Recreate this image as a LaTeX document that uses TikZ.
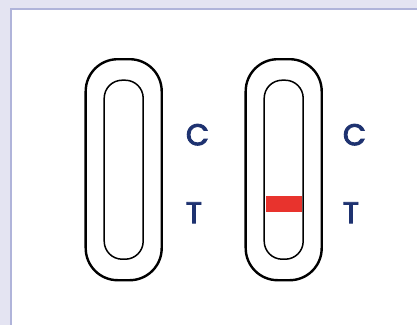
\documentclass[tikz,border=0pt]{standalone}
\usepackage{fontspec}
\setmainfont{Poppins}
\newfontfamily\markfont{Poppins}[FakeBold=3]
\definecolor{tsbg}{RGB}{228,228,242}
\definecolor{tsedge}{RGB}{176,180,218}
\definecolor{tsnavy}{RGB}{30,50,112}
\definecolor{tsred}{RGB}{232,51,45}
\usetikzlibrary{positioning}
\tikzset{
    casing/.style={
        draw=black, line width=2.4bp, rounded corners=32bp,
        minimum width=76bp, minimum height=221bp, inner sep=0pt
    },
    window/.style={
        draw=black, line width=1.5bp, rounded corners=18bp,
        minimum width=39bp, minimum height=179bp, inner sep=0pt
    },
    band/.style={
        fill=#1, minimum width=36bp, minimum height=16bp, inner sep=0pt
    },
    band/.default=tsred,
    letter/.style={
        text=tsnavy, font=\markfont\fontsize{30}{30}\selectfont,
        inner sep=0pt, anchor=center
    }
}

\begin{document}
\begin{tikzpicture}[x=1bp,y=-1bp]
\useasboundingbox (0,0) rectangle (417,325);
% page and panel
\fill[tsbg] (0,0) rectangle (417,325);
\fill[white] (11,9) rectangle (417,325);
\draw[tsedge, line width=1.5bp] (11,325) -- (11,9) -- (417,9);
% negative strip
\node[casing] (neg) at (123.7,169.7) {};
\node[window] (negwin) at (neg.center) {};
\node[letter, right=62bp of neg.center, yshift=35bp] (negC) {C};
\node[letter, right=62bp of neg.center, yshift=-43bp] (negT) {T};
% positive strip
\node[casing] (pos) at (283.7,169.7) {};
\node[window] (poswin) at (pos.center) {};
\node[band, below=34bp of pos.center, anchor=center] (posline) {};
\node[letter, right=59bp of pos.center, yshift=35bp] (posC) {C};
\node[letter, right=59bp of pos.center, yshift=-43bp] (posT) {T};
\end{tikzpicture}
\end{document}
